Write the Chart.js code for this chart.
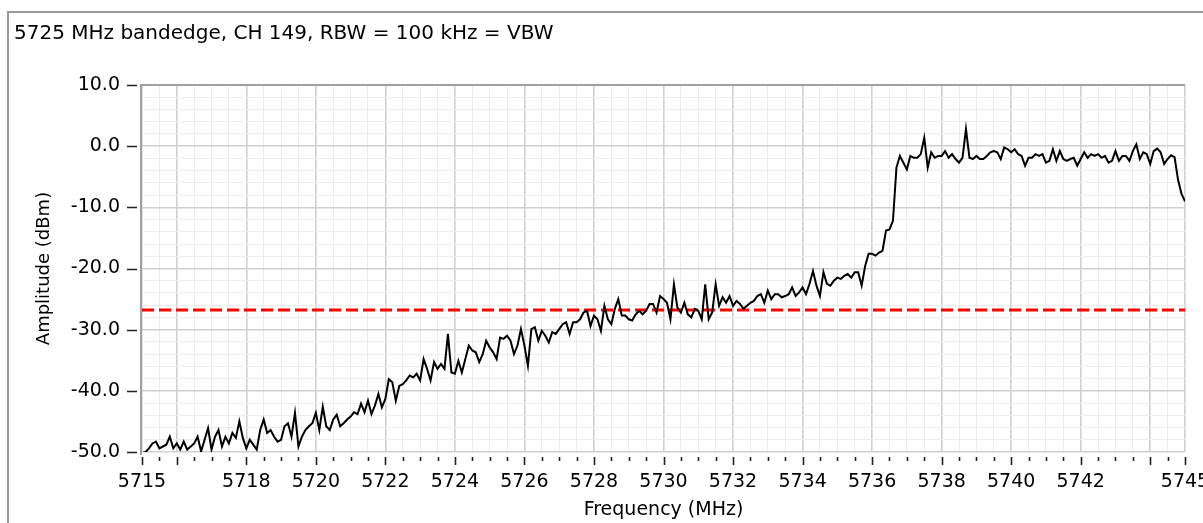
<!DOCTYPE html>
<html>
<head>
<meta charset="utf-8">
<script src="https://cdn.jsdelivr.net/npm/chart.js@4.4.1/dist/chart.umd.min.js"></script>
<style>
  html, body { margin: 0; padding: 0; background: #fff; overflow: hidden; }
  #wrap { position: relative; width: 1203px; height: 523px; overflow: hidden; }
  #graph { position: absolute; left: 0; top: 0; }
  #frame { position: absolute; left: 7px; top: 11px; width: 1400px; height: 700px;
           border-top: 2px solid #9a9a9a; border-left: 2px solid #9a9a9a; pointer-events: none; }
</style>
</head>
<body>
<div id="wrap">
  <canvas id="graph" width="1210" height="523"></canvas>
  <div id="frame"></div>
</div>
<script>
// Amplitude (dBm), un point tous les 0.1 MHz
const startFreq = 5715;
const stepFreq = 0.1;
const amp5715 = [
  -50.2, -50.0, -49.4, -48.6, -48.3, -49.4, -49.1, -48.8, -47.5, -49.4,
  -48.6, -49.6, -48.3, -49.6, -49.1, -48.6, -47.5, -49.9, -48.0, -46.1,
  -49.6, -47.5, -46.4, -49.1, -47.5, -48.6, -46.9, -47.7, -45.0, -47.7,
  -49.4, -48.0, -48.8, -49.6, -46.4, -44.7, -46.9, -46.4, -47.5, -48.3,
  -48.0, -45.8, -45.3, -47.5, -43.6, -49.1, -47.5, -46.4, -45.8, -45.3,
  -43.6, -46.4, -42.6, -45.8, -46.4, -44.7, -43.9, -45.8, -45.3, -44.7,
  -44.2
];
const amp5721 = [
  -43.5, -43.8, -42.1, -43.5, -41.6, -43.8, -42.4, -40.5, -42.7, -41.3,
  -38.1, -38.6, -41.6, -39.2, -38.9, -38.3, -37.5, -37.8, -37.2, -38.3,
  -34.8, -36.4, -38.3, -35.3, -36.4, -35.6, -36.4, -30.7, -37.0, -37.2,
  -35.1, -37.0, -34.8, -32.6, -33.4, -33.7, -35.3, -34.0, -31.8, -32.9,
  -33.7, -34.8, -31.3, -31.5, -31.0, -31.8, -34.0, -32.6, -29.9, -32.6,
  -35.9, -29.9, -29.6, -31.8, -30.2, -31.0, -32.1, -30.4, -30.7, -29.9
];
const amp5727 = [
  -29.1, -28.8, -30.7, -28.8, -28.8, -28.3, -27.2, -26.9, -29.4, -27.7,
  -28.3, -30.2, -26.1, -28.3, -29.1, -26.6, -25.0, -27.7, -27.7, -28.3,
  -28.5, -27.5, -26.9, -27.5, -26.9, -25.8, -25.8, -27.2, -24.5, -25.0,
  -25.6, -28.3, -22.6, -26.4, -27.2, -25.6, -27.5, -28.0, -26.6, -26.9,
  -28.3, -22.6, -28.3, -27.2, -22.6, -26.1, -24.7, -25.6, -24.5, -26.1,
  -25.3, -25.8, -26.6, -26.1, -25.6, -25.3, -24.5, -24.2, -25.6, -23.6
];
const amp5733 = [
  -25.0, -24.2, -24.2, -24.7, -24.5, -24.2, -23.1, -24.5, -23.9, -23.1,
  -24.2, -22.5, -20.4, -22.8, -24.5, -20.6, -22.5, -22.8, -22.0, -21.5,
  -21.7, -21.2, -20.9, -21.5, -20.6, -20.6, -22.8, -19.6, -17.6, -17.6,
  -17.9, -17.4, -17.1, -13.8, -13.6, -12.2, -3.5, -1.6, -2.7, -3.8,
  -1.6, -1.9, -1.9, -1.3, 1.4, -3.5, -1.0, -1.9, -1.6, -1.6,
  -0.8, -1.9, -1.3, -2.1, -2.7, -1.9, 2.8, -1.9, -2.1, -1.6
];
const amp5739 = [
  -2.1, -2.1, -1.6, -1.0, -0.8, -1.0, -2.1, -0.2, -0.5, -1.0,
  -0.5, -1.3, -1.6, -3.2, -1.9, -1.9, -1.3, -1.6, -1.3, -2.7,
  -2.4, -0.5, -2.4, -0.8, -2.1, -2.4, -2.1, -1.9, -3.2, -2.1,
  -1.0, -1.9, -1.3, -1.6, -1.3, -1.9, -1.6, -2.7, -2.4, -0.8,
  -2.4, -1.6, -1.6, -2.4, -0.8, 0.3, -2.1, -1.0, -1.3, -2.9,
  -0.8, -0.4, -1.0, -2.9, -2.1, -1.5, -1.8, -5.5, -7.8, -9.0
];
const limitDbm = -26.8;
const xTickLabels = [5715, 5718, 5720, 5722, 5724, 5726, 5728, 5730, 5732, 5734, 5736, 5738, 5740, 5742, 5745];

const amplitude = [].concat(amp5715, amp5721, amp5727, amp5733, amp5739);
const trace = amplitude.map((v, i) => ({ x: +(startFreq + i * stepFreq).toFixed(1), y: v }));

const FONT = 'DejaVu Sans';

function isMajorX(v) {
  const r = Math.round(v);
  if (Math.abs(v - r) > 1e-6) return false;
  return r % 2 === 0 || r === 5715 || r === 5745;
}
function isMajorY(v) {
  return Math.abs(v % 10) < 1e-6;
}

// cadre du graphe + graduations (longues / courtes)
const tickMarks = {
  id: 'tickMarks',
  beforeDatasetsDraw(chart) {
    const { ctx, chartArea } = chart;
    ctx.save();
    ctx.strokeStyle = '#a0a0a0';
    ctx.lineWidth = 2;
    ctx.beginPath();
    ctx.moveTo(chartArea.left - 1, chartArea.bottom + 3);
    ctx.lineTo(chartArea.left - 1, chartArea.top);
    ctx.lineTo(chartArea.right, chartArea.top);
    ctx.stroke();
    ctx.restore();
  },
  afterDraw(chart) {
    const { ctx, chartArea, scales: { x, y } } = chart;
    ctx.save();
    ctx.strokeStyle = '#222';
    ctx.lineWidth = 1.6;
    ctx.beginPath();
    x.ticks.forEach(t => {
      const px = Math.round(x.getPixelForValue(t.value)) + 0.5;
      const len = isMajorX(t.value) ? 8 : 4;
      ctx.moveTo(px, chartArea.bottom + 5);
      ctx.lineTo(px, chartArea.bottom + 5 + len);
    });
    y.ticks.forEach(t => {
      if (!isMajorY(t.value)) return;
      const py = Math.round(y.getPixelForValue(t.value)) + 0.5;
      ctx.moveTo(chartArea.left - 15, py);
      ctx.lineTo(chartArea.left - 5, py);
    });
    ctx.stroke();
    ctx.restore();
  }
};

new Chart(document.getElementById('graph'), {
  type: 'line',
  data: {
    datasets: [
      {
        label: 'Limit',
        data: [{ x: 5715, y: limitDbm }, { x: 5745, y: limitDbm }],
        borderColor: '#ff0000',
        borderWidth: 3,
        borderDash: [12, 5],
        pointRadius: 0,
        order: 1
      },
      {
        label: 'Amplitude',
        data: trace,
        borderColor: '#000000',
        borderWidth: 2,
        pointRadius: 0,
        tension: 0,
        order: 0
      }
    ]
  },
  options: {
    responsive: false,
    animation: false,
    layout: { padding: { left: 14, top: 12, right: 25, bottom: 0 } },
    plugins: {
      legend: { display: false },
      tooltip: { enabled: false },
      title: {
        display: true,
        text: '5725 MHz bandedge, CH 149, RBW = 100 kHz = VBW',
        align: 'start',
        color: '#000',
        font: { family: FONT, size: 20, weight: 'normal' },
        padding: { top: 10, bottom: 39 }
      }
    },
    scales: {
      x: {
        type: 'linear',
        min: 5715,
        max: 5745,
        afterFit: s => { s.height = 71; s.paddingLeft = 0; s.paddingRight = 0; },
        border: { display: false },
        grid: {
          drawTicks: false,
          color: c => isMajorX(c.tick.value) ? '#d0d0d0' : '#ececec',
          lineWidth: c => isMajorX(c.tick.value) ? 1.6 : 1
        },
        ticks: {
          stepSize: 0.5,
          autoSkip: false,
          maxRotation: 0,
          padding: 19,
          color: '#000',
          font: { family: FONT, size: 19 },
          callback: v => xTickLabels.some(l => Math.abs(l - v) < 1e-6) ? String(Math.round(v)) : ''
        },
        title: {
          display: true,
          text: 'Frequency (MHz)',
          color: '#000',
          font: { family: FONT, size: 19 },
          padding: { top: 0, bottom: 2 }
        }
      },
      y: {
        min: -50,
        max: 10,
        afterFit: s => { s.width = 128; },
        border: { display: false },
        grid: {
          drawTicks: false,
          color: c => isMajorY(c.tick.value) ? '#d0d0d0' : '#ececec',
          lineWidth: c => isMajorY(c.tick.value) ? 1.6 : 1
        },
        ticks: {
          stepSize: 2,
          autoSkip: false,
          padding: 22,
          color: '#000',
          font: { family: FONT, size: 19 },
          callback: v => isMajorY(v) ? (Math.abs(v) < 1e-9 ? '0.0' : v.toFixed(1)) : ''
        },
        title: {
          display: true,
          text: 'Amplitude (dBm)',
          color: '#000',
          font: { family: FONT, size: 18 },
          padding: { top: 20, bottom: 0 }
        }
      }
    }
  },
  plugins: [tickMarks]
});
</script>
</body>
</html>
